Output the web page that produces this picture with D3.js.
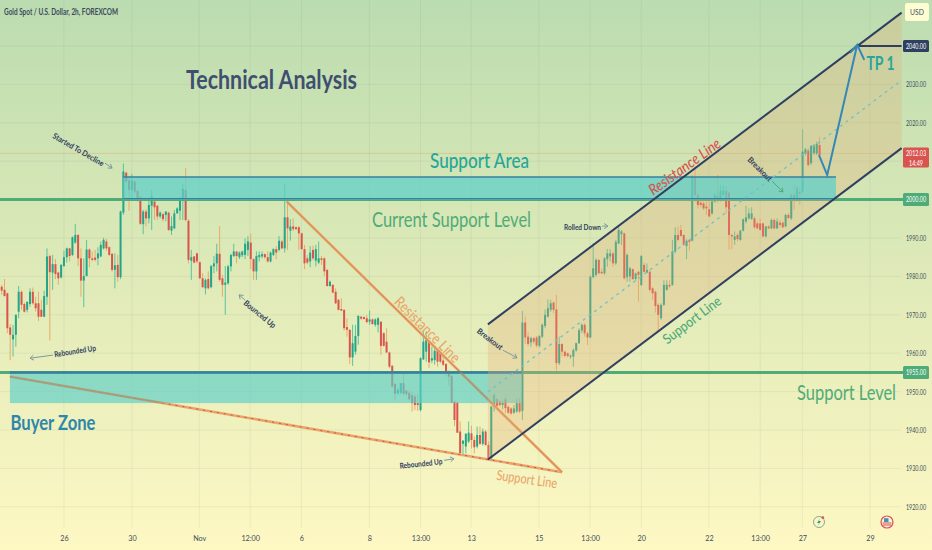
<!DOCTYPE html>
<html>
<head>
<meta charset="utf-8">
<script src="https://cdn.jsdelivr.net/npm/d3@7"></script>
<style>
  html, body { margin: 0; padding: 0; background: #fdf8c4; overflow: hidden; }
  svg { display: block; }
  text { font-family: Lato, "Noto Sans", sans-serif; }
</style>
</head>
<body>
<svg id="chart" width="932" height="550"></svg>
<script>
// candles, one value per 2h bar
var opens = [1977.3,1976.5,1975.6,1966.7,1963.6,1964.8,1970.8,1976,1972.8,1971.3,
1972.8,1976,1973,1973,1971.3,1969.5,1974.7,1985.3,1981,1983.2,
1981,1979.7,1982.7,1985,1987.3,1985.6,1988.8,1990.8,1984.7,1978.9,
1980.1,1987,1984.7,1984.9,1984.7,1985.2,1987.3,1989.1,1987.6,1985.9,
1981.7,1983,1979.8,1996.6,2007,2005,2002.5,2004.7,2002.3,2000.6,
1993.6,1996.9,1995.1,1998.4,1999.5,1998.4,1995.6,1996.2,1996,1996.6,
1991.9,1992.5,1996.4,1997.1,1999.9,2002.5,1994.5,1984.1,1985.2,1986,
1983.7,1979.5,1976.9,1979.3,1977.2,1982.6,1983.4,1985.9,1979.5,1977.8,
1978.2,1982.6,1985.3,1986.5,1985,1985.5,1985.6,1986.9,1988.8,1984.5,
1981.3,1985,1985.2,1985.8,1985,1983.9,1985.6,1987.1,1986.9,1989.1,
1987.3,1995.4,1991.9,1993,1992.8,1992.8,1991.2,1987.1,1984.7,1983.9,
1986.9,1984.1,1983.6,1984.7,1984.7,1981.7,1977.5,1977.8,1976,1973.9,
1971.5,1971.3,1966.8,1966.1,1958.9,1960.4,1964.5,1969.5,1969.4,1969.1,
1968.2,1968.8,1967.4,1967.4,1968.2,1965.2,1963,1960.2,1956.7,1952,
1949.6,1949.7,1952.2,1950.3,1949.7,1949.1,1948.7,1947,1945.2,1958.4,
1960.4,1963.2,1958.1,1958.2,1960.7,1960,1958.1,1957.2,1955.2,1954.1,
1947.4,1947.1,1939.6,1936.4,1935.7,1937,1939.1,1937.4,1935.7,1938.7,
1936.4,1939.6,1936.1,1932.6,1946,1948,1947.4,1946.5,1948,1946,
1945.6,1944.5,1944.8,1947,1945,1968,1964.3,1962.8,1963.9,1964.1,
1961.9,1964.3,1967.1,1969.5,1971.3,1973.2,1971.4,1957.4,1962.4,1960.4,
1960,1959.1,1959.1,1960.7,1962.6,1965.9,1967.4,1965.2,1964.1,1979.8,
1980.4,1984.3,1981.2,1980.8,1984.5,1985.2,1986,1983.4,1988.6,1991,
1991.2,1979.8,1980,1981.9,1979.3,1981.2,1977.8,1983,1981,1981.2,
1976.9,1976,1972.6,1969.1,1972.6,1976.5,1977.8,1977.8,1986.5,1990.8,
1992.1,1990.8,1987.9,1989.5,1989.3,2005.8,2001.2,1999.2,1999,1998.2,
1997.5,1996.4,1999.5,2001,1999.9,2001.2,2002.3,2001.8,1990.8,1989.5,
1990.8,1989.5,1991.9,1994.3,1995.1,1995,1995.1,1993.8,1993.8,1993.8,
1990.4,1993,1992.5,1994.7,1992.5,1994,1994,1993,1996,1995.1,
2001.2,1999.9,2002,2002.1,2012,2012.9,2009.5,2012.1,2012,2014.2];

var highs = [1977.8,1979.3,1975.8,1967.6,1967.4,1970.1,1977.5,1976.3,1973.2,1973.4,
1976.9,1977.1,1974.7,1976,1973.9,1976.3,1987.3,1985.7,1985.6,1984.5,
1981.2,1983.2,1986.7,1987.5,1987.4,1990.4,1993.7,1991,1987.3,1984.7,
1989.5,1987.3,1986.5,1986.9,1987.6,1989.1,1990.1,1989.8,1987.8,1986,
1986,1985.6,1997.1,2009.4,2007.3,2006.2,2006.7,2005,2002.5,2000.8,
1997.3,1997.5,2000.3,2002.5,1999.9,1998.6,1996.9,1996.6,1996.9,1996.9,
1995.6,1997.3,1998,2000.8,2004.1,2008.2,1994.9,1986.9,1985.3,1986.2,
1983.9,1980.8,1979.5,1981.3,1983,1985.3,1988.5,1993.1,1980.4,1982.7,
1983,1985.9,1988.5,1986.5,1986.5,1986.7,1989.9,1990.5,1991.1,1984.7,
1986.5,1986.5,1986.5,1986,1986.5,1986.5,1987.3,1987.9,1990.5,1989.5,
2004.1,1999.4,1994.9,1995.1,1993,1993.1,1991.4,1988.2,1985.6,1987.9,
1988,1988.2,1989.1,1985.3,1985,1981.9,1978.9,1978,1976.9,1974.1,
1974.3,1971.4,1969.1,1966.2,1967.4,1967.4,1969.9,1969.7,1969.6,1970,
1971.1,1969.1,1969.1,1969.4,1968.4,1965.4,1966.5,1960.4,1957,1952.2,
1950.9,1952.2,1954.8,1950.4,1950.3,1950,1949.4,1949.4,1958.9,1965.9,
1965.7,1963.5,1961.7,1961.7,1961,1960.4,1959.5,1957.4,1955.5,1954.4,
1947.6,1947.4,1942.2,1937.4,1939.2,1942.2,1941.1,1938.3,1940.9,1940.9,
1940.4,1940,1937,1946.3,1949.6,1948.3,1947.8,1947.4,1948.7,1946.5,
1945.9,1946.5,1948.3,1948.3,1971,1969.5,1965.4,1964.3,1964.3,1964.5,
1964.7,1967.8,1971.4,1974,1973.9,1973.4,1975.2,1964.3,1962.6,1960.7,
1960.2,1959.6,1961.3,1962.8,1966.5,1967.8,1967.8,1965.6,1980.2,1988.6,
1984.7,1984.5,1982,1985,1987.1,1987.1,1986.5,1989.5,1993.4,1992.1,
1991.4,1986,1982.5,1982.1,1981,1981.5,1985.6,1983.6,1983.4,1981.7,
1977.3,1976.3,1973,1973,1979,1979,1979,1989.5,1992.8,1993,
1993.4,1990.8,1989.7,1989.7,2006.4,2008.2,2001.8,1999.9,1999.5,1999.5,
1999.5,1999.9,2001.6,2006.4,2003.8,2003.6,2003.4,2002.1,1991.1,1991.7,
1991.3,1992.1,1995.1,1998.4,1997.7,1998,1995.6,1994.3,1995.1,1994,
1993.1,1993.4,1995.1,1995.1,1995.1,1994.7,1994.3,1996.3,1996.5,2001.6,
2003.8,2003.6,2003,2018.3,2013.5,2013.4,2014.2,2014.5,2015.1,2016.4];

var lows = [1975.2,1974.7,1965.2,1958.2,1959.1,1961.7,1969.1,1971.3,1970.6,1970.6,
1972.1,1972.6,1970.8,1968.4,1969.4,1969.4,1972.6,1963.3,1976.5,1979.3,
1977.8,1979.5,1982.5,1983.6,1983.9,1985.3,1988.5,1982.7,1974.7,1972,
1980,1982.4,1983.9,1983.9,1982.9,1985,1987,1986.7,1985.3,1981.2,
1976.9,1978.6,1979.3,1996,2004.3,1997.1,1999.9,2001.6,1999.5,1993.4,
1991,1993,1993.8,1992.1,1994.7,1994.7,1995.1,1994.3,1994.4,1991.8,
1990.8,1992.3,1996.4,1994.7,1994.7,1994.3,1983.4,1979.1,1983.4,1983.4,
1979.3,1976.9,1975.3,1976.6,1976.9,1980.8,1981.3,1978.6,1974.7,1970,
1977.8,1981.3,1985,1983.4,1984.5,1985,1984.5,1985.3,1981.9,1979.1,
1979.1,1983.9,1984.7,1984.5,1983.6,1983.6,1985.3,1984.5,1986.5,1987.1,
1986.2,1986.9,1989.3,1991.8,1992.1,1986.9,1986.9,1981.9,1983.2,1982.4,
1984.2,1982.6,1983.2,1983,1980.1,1977.3,1977.3,1975.6,1972.8,1971.1,
1971,1965.9,1964.3,1957.2,1956.7,1959.6,1962.2,1968.7,1968.8,1967.8,
1967.4,1967.4,1966.9,1965.4,1959.5,1961.7,1960,1956.1,1951,1947.7,
1949.1,1949.4,1949.1,1948.9,1947.8,1944.8,1945.2,1945,1944.8,1958.2,
1957.8,1956.1,1957.4,1957,1956.5,1957.4,1956.7,1953.9,1951.5,1947,
1941,1939.2,1933.8,1933.5,1933.9,1936.6,1935.2,1933.9,1935.2,1936.1,
1935.9,1935.9,1932.2,1932.2,1944.8,1945.7,1946.1,1945.4,1944.4,1944.2,
1943.9,1944.2,1944.5,1944.4,1942.6,1962.4,1961.9,1961.7,1962.4,1961.5,
1961.5,1963.9,1966.5,1969.3,1970.8,1970.4,1955.5,1956.9,1959.1,1958.9,
1958.9,1958.5,1956.5,1960.4,1962.4,1965.2,1964.3,1962.1,1963.9,1979.5,
1979.9,1980.6,1980.6,1980.4,1982.5,1983.9,1982.5,1983,1988.4,1988.2,
1979.2,1978.6,1978.6,1979,1978.9,1973.4,1977.5,1981,1980.8,1976,
1973.9,1970.6,1965.9,1968.7,1972.3,1976.3,1976.9,1977.5,1986,1989.1,
1990.4,1987.9,1984.5,1986.7,1989.1,1999.5,1997.7,1998,1997.3,1996,
1995.4,1996,1999.2,1999.2,1999.5,2001,1996.4,1986.9,1987.1,1988.2,
1989.1,1989.3,1991.7,1993.8,1994.7,1994.7,1992.3,1992.3,1991.9,1990.2,
1990.2,1992.3,1992.3,1992.3,1992.3,1992.8,1992.5,1992.8,1995,1994.7,
1997.3,1999.5,1998.6,2001.8,2011.5,2008.6,2009,2011.6,2011.6,2011.4];

var closes = [1976.3,1974.9,1966.5,1964.8,1964.8,1970,1976,1972.6,1970.8,1973.4,
1976,1973,1971.7,1969.5,1969.5,1974.9,1985.2,1981.1,1983.2,1980.6,
1979.5,1983,1985,1987.3,1985.3,1990.2,1990.8,1984.7,1978.9,1980.1,
1987,1984.7,1984.3,1984.3,1986,1988.2,1989.5,1987.3,1985.6,1981.7,
1982.9,1979.8,1996.9,2007.3,2004.7,2002.5,2005,2002.1,1999.7,1993.7,
1996.9,1995.1,1998.6,2000.8,1998,1995.6,1996.6,1994.9,1996.9,1992.1,
1993.1,1996.4,1997.7,2000.3,2002.8,1994.7,1984.3,1985,1983.6,1983.9,
1979.5,1977.2,1979.1,1976.9,1982.7,1983.4,1985.9,1979.1,1977.8,1978.4,
1982.6,1985.6,1986.5,1985.3,1986.2,1986.5,1988.5,1989.1,1984.5,1981.3,
1985.3,1985.6,1985.8,1985,1983.9,1986.2,1987.1,1986.2,1989.3,1987.3,
1995.4,1992.5,1993,1992.3,1992.3,1991.2,1987.1,1983.4,1983.6,1986.2,
1984.7,1987.1,1984.7,1984.3,1981.3,1977.5,1978.6,1975.8,1973,1971.3,
1971.1,1966.5,1966.1,1958.9,1962.6,1964.5,1969.7,1969,1968.9,1968.1,
1968.8,1967.6,1968.8,1969.1,1961.9,1961.9,1960.2,1956.5,1951.3,1949.4,
1950.4,1952.2,1949.4,1949.4,1948,1947,1946.5,1946.5,1958.7,1963,
1963.5,1957.6,1958.7,1960.6,1957.8,1957.8,1957,1954.8,1953.9,1947.1,
1942.6,1939.3,1934,1937.2,1939,1939.3,1937.4,1935.5,1938.7,1936.4,
1939.6,1936.1,1932.6,1946.1,1949.1,1946.3,1946.5,1947.1,1945.7,1944.5,
1944.3,1945.6,1947,1944.8,1968,1964.1,1962.4,1963.9,1963,1962,
1964.5,1967.4,1970,1971.7,1973,1971.3,1957.4,1962.4,1960.4,1959.3,
1959.3,1959.4,1960.8,1962.6,1966,1967.4,1965.2,1964.1,1979.9,1982.1,
1984.3,1980.8,1980.8,1984.7,1986,1986,1983.4,1989,1992.1,1991.7,
1979.5,1985.6,1982.1,1979.3,1980.8,1980.4,1985.3,1981.2,1981.7,1976.5,
1975.6,1972.3,1970,1972.6,1977.8,1977.8,1977.4,1986.5,1990.8,1989.5,
1990.5,1988.2,1989.3,1989,2006,2001.2,1998.6,1998.6,1997.7,1997.7,
1995.6,1999.5,2001.2,1999.9,2002.3,2002.3,1998,1990.8,1990.4,1990.4,
1989.7,1991.9,1994.9,1995.4,1996.4,1996.4,1992.8,1992.5,1992.1,1990.4,
1993,1992.5,1994.7,1992.5,1994.3,1993.4,1992.8,1996,1995.2,2001.2,
1999.9,2003,2001.5,2012.5,2013.1,2009,2014,2014.2,2014.5,2011.6];

// axis labels
var priceTicks = [2030, 2020, 1990, 1980, 1970, 1960, 1950, 1940, 1930, 1920];
var timeTickBars = [22, 46, 69.8, 87.8, 105.9, 129.9, 148, 165.9, 189.8, 207.9, 226, 249.9, 268, 282.9, 306.8];
var timeTickLabels = ["26", "30", "Nov", "12:00", "6", "8", "13:00", "13", "15", "13:00", "20", "22", "13:00", "27", "29"];
var gridPrices = [2040, 2030, 2020, 2010, 2000, 1990, 1980, 1970, 1960, 1950, 1940, 1930, 1920];
var lastPrice = 2012.03;

// drawing tools on the chart, as [bar, price] anchors
var supportArea = [[42.9, 2005.9], [294.8, 2000]];
var buyerZone = [[2.9, 1955], [183.9, 1947]];
var levelPrices = [2000, 1955];
var targetLevel = [[302.3, 2040], [318, 2040]];
var channelUpper = [[171.8, 1967.5], [318, 2048.7]];
var channelLower = [[171.8, 1932.3], [318, 2013.4]];
var channelMiddle = [[171.8, 1949.9], [318, 2031.1]];
var fallingResistance = [[100.7, 1999.5], [198, 1929]];
var fallingSupport = [[2.9, 1953.9], [198, 1929]];
var projection = [[288.8, 2011.6], [291.7, 2006.4], [302.3, 2040.3]];
var projectionHead = [[299.8, 2038.2], [302.3, 2040.3], [304.8, 2036.4]];
var noteArrows = [
  [[36.5, 2009.5], [39, 2008.2]],
  [[18.1, 1959.5], [10, 1958.7]],
  [[86, 1973.8], [83.9, 1975.2]],
  [[156.3, 1932.1], [159.8, 1932.5]],
  [[177.1, 1960.8], [182.1, 1958.8]],
  [[212.1, 1993.1], [214.2, 1993.1]]
];
var breakoutArrow = [[272.2, 2004.8], [276.1, 2002]];

var green = "#23a58a", red = "#d9534f", navy = "#2f3f60", level = "#4fab78", orange = "#e8a56a";
var squeeze = "scale(0.72,1)"; // axis digits are narrow in the picture

var svg = d3.select("#chart");

var defs = svg.append("defs");
var grad = defs.append("linearGradient").attr("id", "bg").attr("x1", 0).attr("y1", 0).attr("x2", 0).attr("y2", 1);
grad.append("stop").attr("offset", "0%").attr("stop-color", "#bbdcb0");
grad.append("stop").attr("offset", "50%").attr("stop-color", "#dfeab8");
grad.append("stop").attr("offset", "100%").attr("stop-color", "#fef8c3");
svg.append("rect").attr("width", 932).attr("height", 550).attr("fill", "url(#bg)");

var x = d3.scaleLinear().domain([0, 318]).range([1.7, 901.64]);
var y = d3.scaleLinear().domain([1920, 2040]).range([506.8, 46]);

var line = d3.line().x(function(d) { return x(d[0]); }).y(function(d) { return y(d[1]); });

defs.append("clipPath").attr("id", "buyerClip").append("rect")
  .attr("x", x(buyerZone[0][0])).attr("width", x(buyerZone[1][0]) - x(buyerZone[0][0]))
  .attr("y", y(buyerZone[0][1])).attr("height", y(buyerZone[1][1]) - y(buyerZone[0][1]));

// grid
svg.append("g").selectAll("line").data(gridPrices).join("line")
  .attr("x1", 0).attr("x2", 901)
  .attr("y1", function(d) { return y(d); }).attr("y2", function(d) { return y(d); })
  .attr("stroke", "#5f7f70").attr("stroke-opacity", 0.09);
svg.append("g").selectAll("line").data(timeTickBars).join("line")
  .attr("x1", function(d) { return x(d); }).attr("x2", function(d) { return x(d); })
  .attr("y1", 0).attr("y2", 528)
  .attr("stroke", "#5f7f70").attr("stroke-opacity", 0.09);

svg.append("line").attr("x1", 0).attr("x2", 901)
  .attr("y1", y(lastPrice)).attr("y2", y(lastPrice))
  .attr("stroke", "#e8a56a").attr("stroke-opacity", 0.45);

// candles
var bars = d3.range(opens.length);
var candles = svg.append("g");
candles.selectAll("line").data(bars).join("line")
  .attr("x1", function(i) { return x(i); }).attr("x2", function(i) { return x(i); })
  .attr("y1", function(i) { return y(highs[i]); }).attr("y2", function(i) { return y(lows[i]); })
  .attr("stroke", function(i) { return closes[i] >= opens[i] ? "#5cc39a" : "#eba968"; })
  .attr("stroke-width", 1);
candles.selectAll("rect").data(bars).join("rect")
  .attr("x", function(i) { return x(i) - 1; }).attr("width", 2)
  .attr("y", function(i) { return y(Math.max(opens[i], closes[i])); })
  .attr("height", function(i) { return Math.max(1, Math.abs(y(opens[i]) - y(closes[i]))); })
  .attr("fill", function(i) { return closes[i] >= opens[i] ? green : red; });

// falling trend lines go under the buyer zone
svg.append("path").attr("d", line(fallingSupport)).attr("stroke", orange).attr("stroke-width", 2.6).attr("fill", "none");
svg.append("path").attr("d", line(fallingSupport)).attr("stroke", "#dc4c4c").attr("stroke-width", 1).attr("stroke-dasharray", "2,5").attr("fill", "none");
svg.append("path").attr("d", line(fallingResistance)).attr("stroke", orange).attr("stroke-width", 2.6).attr("fill", "none");
svg.append("path").attr("d", line(fallingResistance)).attr("stroke", "#c9703f").attr("stroke-width", 0.6).attr("fill", "none");

// level lines under the zones
svg.append("g").selectAll("line").data(levelPrices).join("line")
  .attr("x1", 0).attr("x2", 903)
  .attr("y1", function(d) { return y(d); }).attr("y2", function(d) { return y(d); })
  .attr("stroke", level).attr("stroke-width", 3);

function drawZone(z, topWidth, opacity) {
  svg.append("rect")
    .attr("x", x(z[0][0])).attr("width", x(z[1][0]) - x(z[0][0]))
    .attr("y", y(z[0][1])).attr("height", y(z[1][1]) - y(z[0][1]))
    .attr("fill", "#5fd0c8").attr("fill-opacity", opacity);
  svg.append("line")
    .attr("x1", x(z[0][0])).attr("x2", x(z[1][0]))
    .attr("y1", y(z[0][1])).attr("y2", y(z[0][1]))
    .attr("stroke", "#38809f").attr("stroke-width", topWidth);
}
drawZone(buyerZone, 2.5, 0.68);

// trend lines seen through the buyer zone
[fallingSupport, fallingResistance].forEach(function(t) {
  svg.append("path").attr("d", line(t)).attr("clip-path", "url(#buyerClip)")
    .attr("stroke", "#c08a60").attr("stroke-width", 2).attr("stroke-opacity", 0.7).attr("fill", "none");
});

// channel fill is over the buyer zone and under the support area
svg.append("path")
  .attr("d", line([channelUpper[0], channelUpper[1], channelLower[1], channelLower[0]]) + "Z")
  .attr("fill", "#e6ad78").attr("fill-opacity", 0.3);

drawZone(supportArea, 1.5, 0.74);
svg.append("line")
  .attr("x1", x(supportArea[0][0])).attr("x2", x(supportArea[1][0]))
  .attr("y1", y(supportArea[1][1]) - 1).attr("y2", y(supportArea[1][1]) - 1)
  .attr("stroke", "#38809f").attr("stroke-width", 1.2);

// channel lines
[channelUpper, channelLower].forEach(function(c) {
  svg.append("path").attr("d", line(c)).attr("stroke", navy).attr("stroke-width", 2).attr("fill", "none");
});
svg.append("path").attr("d", line(channelMiddle))
  .attr("stroke", "#6fc3c8").attr("stroke-width", 1.3).attr("stroke-dasharray", "3,4").attr("fill", "none");

svg.append("path").attr("d", line(targetLevel)).attr("stroke", navy).attr("stroke-width", 2).attr("fill", "none");

// projected move
svg.append("path").attr("d", line(projection)).attr("stroke", "#3488b4").attr("stroke-width", 2).attr("fill", "none");
svg.append("path").attr("d", line(projectionHead)).attr("stroke", "#3488b4").attr("stroke-width", 2).attr("fill", "none");

function drawNoteArrow(a, color) {
  var x1 = x(a[0][0]), y1 = y(a[0][1]), x2 = x(a[1][0]), y2 = y(a[1][1]);
  var ang = Math.atan2(y2 - y1, x2 - x1), head = 4.5;
  var p = d3.path();
  p.moveTo(x1, y1); p.lineTo(x2, y2);
  p.moveTo(x2 - head * Math.cos(ang - 0.6), y2 - head * Math.sin(ang - 0.6));
  p.lineTo(x2, y2);
  p.lineTo(x2 - head * Math.cos(ang + 0.6), y2 - head * Math.sin(ang + 0.6));
  svg.append("path").attr("d", p.toString()).attr("fill", "none").attr("stroke", color).attr("stroke-width", 1);
}
noteArrows.forEach(function(a) { drawNoteArrow(a, "#7f9a98"); });
drawNoteArrow(breakoutArrow, "#4fab78");

// cx, cy is the middle of the text
function label(txt, cx, cy, size, color, len, angle, weight, italic) {
  svg.append("text").text(txt)
    .attr("text-anchor", "middle")
    .attr("dominant-baseline", "central")
    .attr("transform", "translate(" + cx + "," + cy + ") rotate(" + (angle || 0) + ")")
    .attr("font-size", size)
    .attr("font-weight", weight || 400)
    .attr("font-style", italic ? "italic" : "normal")
    .attr("fill", color)
    .attr("textLength", len)
    .attr("lengthAdjust", "spacingAndGlyphs");
}

label("Gold Spot / U.S. Dollar, 2h, FOREXCOM", 61, 11.5, 9, "#3c4a5e", 114, 0, 700);
label("Technical Analysis", 271.5, 78, 27, "#3f4f70", 171, 0, 700);
label("Support Area", 479.5, 159, 21, "#26a69a", 99, 0, 500);
label("Current Support Level", 451.5, 218, 21, "#4fab78", 159);
label("Support Level", 846.5, 391, 21, "#4fab78", 99);
label("Buyer Zone", 53, 421.5, 21, "#2f86ab", 85, 0, 700);
label("TP 1", 880.5, 62, 19, "#26a69a", 28, 0, 700);
label("Resistance Line", 684, 166, 15, "#d9534f", 85, -36, 500, true);
label("Resistance Line", 428, 329, 15, "#e9a66e", 86, 45, 500);
label("Support Line", 527, 478.5, 14, "#e9a66e", 61, 8, 500);
label("Support Line", 691.5, 319.5, 14, "#4fab78", 69, -37, 500);
label("Started To Decline", 78.5, 149.5, 8, navy, 58, 30, 700);
label("Rebounded Up", 75, 351, 8, navy, 42, -9, 700);
label("Bounced Up", 260, 314, 8, navy, 39, 39, 700);
label("Rebounded Up", 421, 463.5, 8, navy, 43, -6, 700);
label("Breakout", 490, 339, 8, navy, 30, 37, 700);
label("Rolled Down", 582.5, 226.5, 8, navy, 37, 0, 700);
label("Breakout", 760, 169, 8, navy, 31, 45, 700);

// axes
var priceAxis = d3.axisRight(y).tickValues(priceTicks).tickSize(0).tickPadding(0)
  .tickFormat(function(d) { return d3.format(".2f")(d); });
var yG = svg.append("g").attr("transform", "translate(906,0)").call(priceAxis);
yG.select(".domain").remove();
yG.selectAll("text").attr("font-size", 7.5).attr("fill", "#3d4d5c").attr("transform", squeeze);

var timeAxis = d3.axisBottom(x).tickValues(timeTickBars).tickSize(0).tickPadding(0)
  .tickFormat(function(d, i) { return timeTickLabels[i]; });
var xG = svg.append("g").attr("transform", "translate(0,535)").call(timeAxis);
xG.select(".domain").remove();
xG.selectAll("text").attr("font-size", 8.5).attr("fill", "#3d4d5c").attr("transform", "scale(0.85,1)");

// price tags on the axis, the first line of text sits on the price
function priceTag(price, fill, h, lines) {
  var cy = y(price);
  var top = lines.length > 1 ? cy - 6 : cy - h / 2;
  svg.append("rect").attr("x", 903).attr("y", top).attr("width", 26).attr("height", h).attr("rx", 1.5).attr("fill", fill);
  lines.forEach(function(t, i) {
    svg.append("text").text(t)
      .attr("transform", "translate(916," + (cy + i * 9.5) + ") " + squeeze)
      .attr("text-anchor", "middle").attr("dominant-baseline", "central")
      .attr("font-size", 7.5).attr("fill", "#fff");
  });
}
priceTag(2040, navy, 12, ["2040.00"]);
priceTag(2000, level, 13, ["2000.00"]);
priceTag(1955, level, 13, ["1955.00"]);
priceTag(lastPrice, red, 20, ["2012.03", "14:49"]);

svg.append("rect").attr("x", 905).attr("y", 3).attr("width", 24).attr("height", 18).attr("rx", 2).attr("fill", "#fdfcd2");
svg.append("text").text("USD").attr("transform", "translate(917,12) scale(0.85,1)").attr("text-anchor", "middle")
  .attr("dominant-baseline", "central").attr("font-size", 8).attr("fill", "#3d4d5c");

// small icons near the bottom of the pane
var bolt = svg.append("g").attr("transform", "translate(819,522)");
bolt.append("circle").attr("r", 5.5).attr("fill", "none").attr("stroke", "#8aa79c").attr("stroke-width", 1);
bolt.append("path").attr("d", "M1,-3.5L-2,1H0L-1,3.5L2,-1H0Z").attr("fill", "#3d9a7a");
bolt.append("circle").attr("cx", 3.8).attr("cy", -4.4).attr("r", 1.4).attr("fill", "#d9534f");
var flag = svg.append("g").attr("transform", "translate(887,522)");
flag.append("circle").attr("r", 6).attr("fill", "#f4f3df").attr("stroke", "#d9534f").attr("stroke-width", 1.2);
flag.append("rect").attr("x", -4.5).attr("y", 0.5).attr("width", 9).attr("height", 1).attr("fill", "#d9534f");
flag.append("rect").attr("x", -4).attr("y", 2.5).attr("width", 8).attr("height", 1).attr("fill", "#d9534f");
flag.append("rect").attr("x", -3).attr("y", -3.8).attr("width", 4.5).attr("height", 3.8).attr("fill", "#4f8fa8");
</script>
</body>
</html>
